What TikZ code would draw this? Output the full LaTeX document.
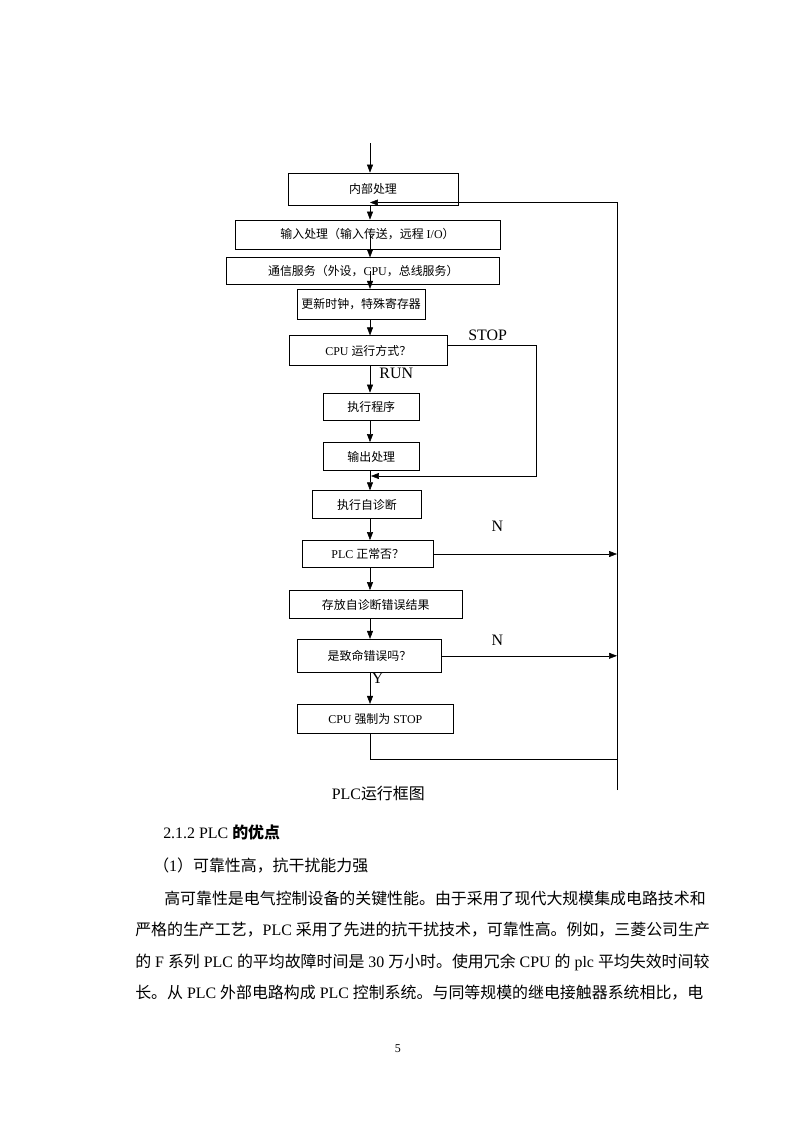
\documentclass[tikz,border=0pt]{standalone}
\usepackage{fontspec}
\setmainfont{Liberation Serif}
\newfontfamily\cn{Noto Sans CJK SC}
\usepackage{tikz}
\usetikzlibrary{arrows.meta,positioning,calc}
\newlength\pu
\setlength\pu{0.26482mm}
\XeTeXlinebreaklocale "zh"
\XeTeXlinebreakskip=0pt plus 3pt

\begin{document}
\begin{tikzpicture}[x=0.26482mm,y=-0.26482mm,>={Triangle[length=6pt,width=4.5pt]},
  box/.style={draw,line width=0.6pt,inner sep=0pt,font=\fontsize{9}{11}\selectfont},
  lbl/.style={inner sep=0pt,font=\fontsize{12}{14}\selectfont},
  body/.style={inner sep=0pt,anchor=base west,font=\fontsize{12}{15}\selectfont},
  jline/.style={body,align=justify}]
  % page
  \useasboundingbox (0,0) rectangle (793,1122);
  \fill[white] (0,0) rectangle (793,1122);
  % helper coordinates: main line, right return line
  \coordinate (spine) at (370,0);
  \coordinate (start) at (370,143);
  \coordinate (stopx) at (536,0);
  \coordinate (merge) at (371,476);
  \coordinate (rtop) at (617,202.5);
  \coordinate (rlow) at (617,759);
  \coordinate (rbot) at (617,790);

  % boxes
  \node[box,minimum width=170\pu,minimum height=32\pu] (nei) at (373,189) {{\cn 内部处理}};
  \node[box,minimum width=265\pu,minimum height=29\pu] (shuru) at (367.5,234.5) {{\cn 输入处理（输入传送，远程} I/O{\cn ）}};
  \node[box,minimum width=273\pu,minimum height=27\pu] (tongxin) at (363.3,271.3) {{\cn 通信服务（外设，}CPU{\cn ，总线服务）}};
  \node[box,minimum width=128\pu,minimum height=30\pu] (gengxin) at (361.2,304.3) {{\cn 更新时钟，特殊寄存器}};
  \node[box,minimum width=158\pu,minimum height=30\pu] (yunxing) at (368.3,350.8) {CPU {\cn 运行方式？}};
  \node[box,minimum width=96\pu,minimum height=27\pu] (zhixing) at (371.3,406.5) {{\cn 执行程序}};
  \node[box,minimum width=96\pu,minimum height=28\pu] (shuchu) at (371.3,456.5) {{\cn 输出处理}};
  \node[box,minimum width=109\pu,minimum height=28\pu] (zizhen) at (367,504.7) {{\cn 执行自诊断}};
  \node[box,minimum width=131\pu,minimum height=27\pu] (zhengchang) at (367.8,554) {PLC {\cn 正常否？}};
  \node[box,minimum width=173\pu,minimum height=28\pu] (cunfang) at (375.7,604.5) {{\cn 存放自诊断错误结果}};
  \node[box,minimum width=144\pu,minimum height=33\pu] (zhiming) at (369.5,655.8) {{\cn 是致命错误吗？}};
  \node[box,minimum width=156\pu,minimum height=29\pu] (qiangzhi) at (375.3,718.8) {CPU {\cn 强制为} STOP};

  % labels
  \node[lbl] (stoplbl) at (487.7,335.3) {STOP};
  \node[lbl] (runlbl) at (396.3,373.5) {RUN};
  \node[lbl] (nlbla) at (497.3,526.7) {N};
  \node[lbl] (nlblb) at (497.3,640) {N};
  \node[lbl] (ylbl) at (377.5,678.5) {Y};
  \node[lbl] (caption) at (378.3,793) {PLC{\cn 运行框图}};

  % main line
  \draw[->] (start) -- (nei.north -| spine);
  \draw[->] (nei.south -| spine) -- (shuru.north -| spine);
  \draw[->] (shuru.center -| spine) -- (tongxin.north -| spine);
  \draw[->] (tongxin.center -| spine) -- (gengxin.north -| spine);
  \foreach \a/\b in {gengxin/yunxing,yunxing/zhixing,zhixing/shuchu,shuchu/zizhen,
                     zizhen/zhengchang,zhengchang/cunfang,cunfang/zhiming,zhiming/qiangzhi}
    \draw[->] (\a.south -| spine) -- (\b.north -| spine);

  % STOP branch
  \draw[->] ($(yunxing.east)+(0,-6)$) -- ($(yunxing.east -| stopx)+(0,-6)$) -- (stopx |- merge) -- (merge);
  % N branches and return line
  \draw[->] (zhengchang.east) -- (zhengchang.east -| rtop);
  \draw[->] (zhiming.east) -- (zhiming.east -| rtop);
  \draw (qiangzhi.south -| spine) |- (rlow);
  \draw[->] (rbot) -- (rtop) -- (rtop -| spine);

  % text below the chart
  \node[body] (sec) at (163,838) {2.1.2 PLC {\cn\bfseries 的优点}};
  \node[body] (item) at (153,871) {{\cn （}1{\cn ）可靠性高，抗干扰能力强}};
  \node[jline,text width=547\pu] (para1) at (164,904)
    {\parfillskip=0pt\cn 高可靠性是电气控制设备的关键性能。由于采用了现代大规模集成电路技术和};
  \node[jline,text width=576\pu] (para2) at (135,935.5)
    {\parfillskip=0pt{\cn 严格的生产工艺，}PLC {\cn 采用了先进的抗干扰技术，可靠性高。例如，三菱公司生产}};
  \node[jline,text width=576\pu] (para3) at (135,967)
    {\parfillskip=0pt{\cn 的} F {\cn 系列} PLC {\cn 的平均故障时间是} 30 {\cn 万小时。使用冗余} CPU {\cn 的} plc {\cn 平均失效时间较}};
  \node[jline,text width=576\pu] (para4) at (135,998.5)
    {\parfillskip=0pt{\cn 长。从} PLC {\cn 外部电路构成} PLC {\cn 控制系统。与同等规模的继电接触器系统相比，电}};
  \node[body,font=\fontsize{9}{11}\selectfont] (pageno) at (394.5,1052) {5};
\end{tikzpicture}
\end{document}
